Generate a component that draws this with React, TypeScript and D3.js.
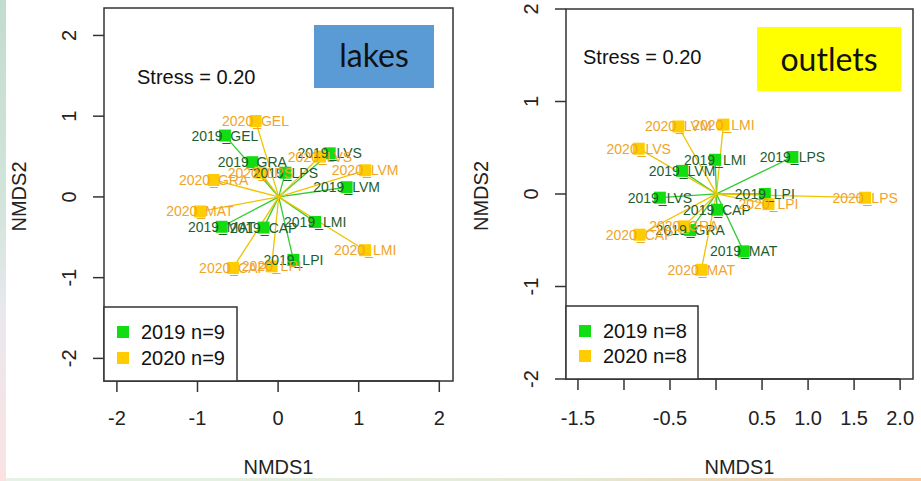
import React from "react";
import * as d3 from "d3";

// ---------- DATA ----------
const lakeSites = ["GEL", "GRA", "LPS", "LVS", "LVM", "MAT", "CAP", "LMI", "LPI"];
const lakes2019X = [-0.66, -0.32, 0.09, 0.64, 0.85, -0.70, -0.18, 0.46, 0.19];
const lakes2019Y = [0.76, 0.43, 0.30, 0.54, 0.12, -0.37, -0.38, -0.31, -0.78];
const lakes2020X = [-0.28, -0.80, -0.22, 0.52, 1.08, -0.97, -0.56, 1.08, -0.08];
const lakes2020Y = [0.94, 0.21, 0.30, 0.50, 0.33, -0.18, -0.88, -0.66, -0.86];

const outletSites = ["LVM", "LMI", "LVS", "LPS", "LPI", "CAP", "GRA", "MAT"];
const outlets2019X = [-0.37, -0.01, -0.61, 0.83, 0.53, 0.01, -0.28, 0.30];
const outlets2019Y = [0.25, 0.37, -0.04, 0.40, 0.00, -0.17, -0.39, -0.62];
const outlets2020X = [-0.41, 0.08, -0.84, 1.62, 0.57, -0.83, -0.35, -0.16];
const outlets2020Y = [0.73, 0.75, 0.49, -0.04, -0.11, -0.44, -0.35, -0.82];

const years = ["2019", "2020"];
const lakesXTicks = [-2, -1, 0, 1, 2];
const lakesXTickLabels = ["-2", "-1", "0", "1", "2"];
const lakesYTicks = [-2, -1, 0, 1, 2];
const outletsXTicks = [-1.5, -1, -0.5, 0, 0.5, 1, 1.5, 2];
const outletsXTickLabels = ["-1.5", "", "-0.5", "", "0.5", "1.0", "1.5", "2.0"];
const outletsYTicks = [-2, -1, 0, 1, 2];
const stressText = "Stress = 0.20";

// ---------- STYLE ----------
const FONT = "Arial, 'Liberation Sans', sans-serif";
const markColor = { "2019": "#11DD11", "2020": "#FFCC00" };
const lineColor = { "2019": "#33CC33", "2020": "#EEC400" };
const textColor = { "2019": "#1E5E2E", "2020": "#F0A428" };

type PanelProps = {
  sites: string[];
  x19: number[]; y19: number[]; x20: number[]; y20: number[];
  xDomain: [number, number]; yDomain: [number, number];
  xRange: [number, number]; yRange: [number, number];
  xTicks: number[]; xTickLabels: string[]; yTicks: number[];
  yLabelX: number; yTitleX: number;
  stressX: number; stressY: number;
  legendW: number; legendH: number; legendYs: [number, number];
  title: string; titleBox: [number, number, number, number]; titleFill: string;
  titleTextX: number; titleTextY: number;
};

function Panel(p: PanelProps) {
  const x = d3.scaleLinear().domain(p.xDomain).range(p.xRange);
  const y = d3.scaleLinear().domain(p.yDomain).range(p.yRange);
  const [x0, x1] = p.xRange;
  const [y0, y1] = p.yRange; // y0 bottom, y1 top
  const pts = [
    ...p.sites.map((s, i) => ({ yr: "2019", name: `2019_${s}`, vx: p.x19[i], vy: p.y19[i] })),
    ...p.sites.map((s, i) => ({ yr: "2020", name: `2020_${s}`, vx: p.x20[i], vy: p.y20[i] })),
  ];
  const cx = d3.mean(pts, (d) => d.vx) as number;
  const cy = d3.mean(pts, (d) => d.vy) as number;
  const n = p.sites.length;
  const tick = 11;
  const midX = (x0 + x1) / 2;
  const midY = (y0 + y1) / 2;
  const sq = 12;
  return (
    <g>
      <rect x={x0} y={y1} width={x1 - x0} height={y0 - y1} fill="#fff" stroke="#333" strokeWidth={1.5} />
      {/* x axis */}
      <line x1={x(p.xTicks[0])} x2={x(p.xTicks[p.xTicks.length - 1])} y1={y0} y2={y0} stroke="#333" strokeWidth={1.5} />
      {p.xTicks.map((t, i) => (
        <g key={"xt" + i}>
          <line x1={x(t)} x2={x(t)} y1={y0} y2={y0 + tick} stroke="#333" strokeWidth={1.5} />
          <text x={x(t)} y={425} fontSize={20} textAnchor="middle" fontFamily={FONT} fill="#222">
            {p.xTickLabels[i]}
          </text>
        </g>
      ))}
      {/* y axis */}
      {p.yTicks.map((t, i) => (
        <g key={"yt" + i}>
          <line x1={x0 - tick} x2={x0} y1={y(t)} y2={y(t)} stroke="#333" strokeWidth={1.5} />
          <text
            transform={`translate(${p.yLabelX},${y(t)}) rotate(-90)`}
            fontSize={20}
            textAnchor="middle"
            dominantBaseline="central"
            fontFamily={FONT}
            fill="#222"
          >
            {String(t)}
          </text>
        </g>
      ))}
      <text x={midX} y={474} fontSize={20} textAnchor="middle" fontFamily={FONT} fill="#222">NMDS1</text>
      <text
        transform={`translate(${p.yTitleX},${midY + 2}) rotate(-90)`}
        fontSize={20}
        textAnchor="middle"
        dominantBaseline="central"
        fontFamily={FONT}
        fill="#222"
      >
        NMDS2
      </text>
      <text x={p.stressX} y={p.stressY} fontSize={20} fontFamily={FONT} fill="#111">{stressText}</text>
      {/* title box */}
      <rect x={p.titleBox[0]} y={p.titleBox[1]} width={p.titleBox[2]} height={p.titleBox[3]} fill={p.titleFill} />
      <text x={p.titleTextX} y={p.titleTextY} fontSize={32} textAnchor="middle" fontFamily="Lato, 'Open Sans', sans-serif" fill="#111">
        {p.title}
      </text>
      {/* spider lines */}
      {pts.map((d, i) => (
        <line key={"l" + i} x1={x(cx)} y1={y(cy)} x2={x(d.vx)} y2={y(d.vy)} stroke={lineColor[d.yr]} strokeWidth={1.3} />
      ))}
      {/* points */}
      {pts.map((d, i) => (
        <rect key={"p" + i} x={x(d.vx) - sq / 2} y={y(d.vy) - sq / 2} width={sq} height={sq} fill={markColor[d.yr]} />
      ))}
      {/* labels */}
      {pts.map((d, i) => (
        <text
          key={"t" + i}
          x={x(d.vx)}
          y={y(d.vy)}
          fontSize={14}
          textAnchor="middle"
          dominantBaseline="central"
          fontFamily={FONT}
          fill={textColor[d.yr]}
        >
          {d.name}
        </text>
      ))}
      {/* legend */}
      <rect x={x0} y={y0 - p.legendH} width={p.legendW} height={p.legendH} fill="#fff" stroke="#333" strokeWidth={1.5} />
      {years.map((yr, i) => (
        <g key={"lg" + i}>
          <rect x={x0 + 13} y={p.legendYs[i] - 6} width={12} height={12} fill={markColor[yr]} />
          <text x={x0 + 37} y={p.legendYs[i]} fontSize={20} dominantBaseline="central" fontFamily={FONT} fill="#111">
            {`${yr} n=${n}`}
          </text>
        </g>
      ))}
    </g>
  );
}

export default function App() {
  return (
    <svg width={921} height={481} style={{ position: "absolute", left: 0, top: 0, background: "#fff" }}>
      <defs>
        <linearGradient id="leftStrip" x1="0" y1="0" x2="0" y2="1">
          <stop offset="0" stopColor="#C2DCCF" />
          <stop offset="0.45" stopColor="#D3E5DC" />
          <stop offset="0.65" stopColor="#E9E8EE" />
          <stop offset="1" stopColor="#FBE2E2" />
        </linearGradient>
        <linearGradient id="bottomStrip" x1="0" y1="0" x2="1" y2="0">
          <stop offset="0" stopColor="#E6F2E6" />
          <stop offset="0.6" stopColor="#E3EBD6" />
          <stop offset="1" stopColor="#F7C69C" />
        </linearGradient>
      </defs>
      <rect x={0} y={0} width={921} height={481} fill="#fff" />
      <rect x={0} y={0} width={6} height={481} fill="url(#leftStrip)" />
      <rect x={6} y={478} width={915} height={3} fill="url(#bottomStrip)" />
      <Panel
        sites={lakeSites}
        x19={lakes2019X} y19={lakes2019Y} x20={lakes2020X} y20={lakes2020Y}
        xDomain={[-2.16, 2.17]} yDomain={[-2.28, 2.34]}
        xRange={[104, 453]} yRange={[381, 8]}
        xTicks={lakesXTicks} xTickLabels={lakesXTickLabels} yTicks={lakesYTicks}
        yLabelX={69} yTitleX={19}
        stressX={137} stressY={84}
        legendW={133} legendH={74} legendYs={[332, 358]}
        title="lakes" titleBox={[314, 25, 120, 63]} titleFill="#5B9BD5"
        titleTextX={374} titleTextY={67}
      />
      <Panel
        sites={outletSites}
        x19={outlets2019X} y19={outlets2019Y} x20={outlets2020X} y20={outlets2020Y}
        xDomain={[-1.63, 2.14]} yDomain={[-2.0, 2.0]}
        xRange={[566, 913]} yRange={[379, 9]}
        xTicks={outletsXTicks} xTickLabels={outletsXTickLabels} yTicks={outletsYTicks}
        yLabelX={531} yTitleX={481}
        stressX={583} stressY={64}
        legendW={132} legendH={73} legendYs={[331, 356]}
        title="outlets" titleBox={[757, 27, 144, 64]} titleFill="#FFFF00"
        titleTextX={829} titleTextY={71}
      />
    </svg>
  );
}
